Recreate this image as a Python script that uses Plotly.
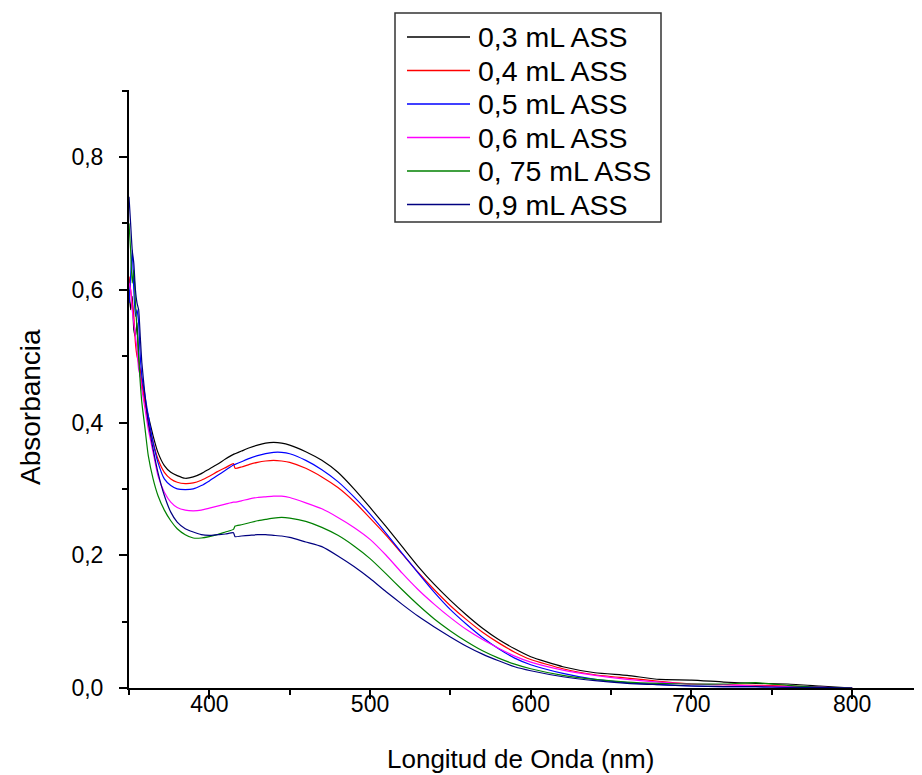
import plotly.graph_objects as go

wavelength = [350, 351, 352, 353, 354, 355, 356, 357, 358, 360, 362, 365, 368, 372, 376,
              380, 385, 390, 395, 400, 405, 410, 415, 416, 420, 425, 430, 435, 440, 445,
              450, 460, 470, 480, 490, 500, 510, 520, 530, 540, 550, 560, 570, 580, 590,
              600, 620, 640, 660, 680, 700, 720, 740, 760, 780, 800]

abs_03 = [0.60, 0.57, 0.59, 0.54, 0.53, 0.55, 0.50, 0.47, 0.46, 0.43, 0.41, 0.38, 0.355, 0.335, 0.325,
          0.320, 0.316, 0.318, 0.323, 0.330, 0.337, 0.345, 0.352, 0.353, 0.357, 0.362, 0.366, 0.369, 0.370, 0.369,
          0.366, 0.356, 0.343, 0.325, 0.300, 0.272, 0.243, 0.213, 0.183, 0.156, 0.132, 0.110, 0.090, 0.073, 0.059,
          0.047, 0.032, 0.023, 0.019, 0.013, 0.012, 0.009, 0.007, 0.006, 0.003, 0.0]

abs_04 = [0.62, 0.60, 0.58, 0.56, 0.52, 0.50, 0.49, 0.48, 0.46, 0.43, 0.40, 0.37, 0.345, 0.325, 0.315,
          0.310, 0.308, 0.309, 0.313, 0.319, 0.326, 0.332, 0.338, 0.331, 0.333, 0.337, 0.340, 0.342, 0.343, 0.342,
          0.340, 0.331, 0.318, 0.302, 0.281, 0.256, 0.230, 0.202, 0.174, 0.148, 0.124, 0.103, 0.084, 0.068, 0.054,
          0.043, 0.029, 0.020, 0.015, 0.010, 0.006, 0.005, 0.004, 0.003, 0.001, 0.0]

abs_05 = [0.58, 0.62, 0.66, 0.60, 0.56, 0.57, 0.55, 0.50, 0.47, 0.44, 0.41, 0.37, 0.34, 0.315, 0.305,
          0.300, 0.299, 0.300, 0.305, 0.312, 0.320, 0.328, 0.336, 0.337, 0.341, 0.346, 0.350, 0.353, 0.355, 0.355,
          0.353, 0.343, 0.329, 0.311, 0.288, 0.262, 0.233, 0.203, 0.173, 0.144, 0.118, 0.096, 0.076, 0.059, 0.045,
          0.035, 0.022, 0.013, 0.008, 0.005, 0.003, 0.002, 0.002, 0.001, 0.001, 0.0]

abs_06 = [0.61, 0.60, 0.57, 0.55, 0.53, 0.51, 0.48, 0.47, 0.45, 0.42, 0.39, 0.355, 0.32, 0.295, 0.28,
          0.272, 0.268, 0.267, 0.268, 0.271, 0.274, 0.277, 0.280, 0.280, 0.282, 0.285, 0.287, 0.288, 0.289, 0.289,
          0.287, 0.279, 0.270, 0.257, 0.242, 0.224, 0.200, 0.173, 0.148, 0.126, 0.106, 0.088, 0.073, 0.060, 0.048,
          0.039, 0.027, 0.019, 0.013, 0.009, 0.006, 0.005, 0.003, 0.002, 0.001, 0.0]

abs_075 = [0.70, 0.66, 0.61, 0.63, 0.58, 0.54, 0.50, 0.46, 0.43, 0.39, 0.35, 0.315, 0.29, 0.268, 0.252,
           0.240, 0.231, 0.226, 0.226, 0.228, 0.231, 0.235, 0.239, 0.244, 0.246, 0.249, 0.252, 0.254, 0.256, 0.257,
           0.256, 0.251, 0.242, 0.230, 0.214, 0.195, 0.172, 0.148, 0.125, 0.104, 0.086, 0.070, 0.056, 0.045, 0.036,
           0.029, 0.019, 0.013, 0.009, 0.007, 0.006, 0.006, 0.008, 0.004, 0.001, 0.0]

abs_09 = [0.74, 0.70, 0.66, 0.64, 0.60, 0.58, 0.57, 0.53, 0.49, 0.44, 0.40, 0.36, 0.325, 0.29, 0.265,
          0.250, 0.240, 0.235, 0.231, 0.230, 0.231, 0.232, 0.234, 0.228, 0.229, 0.230, 0.231, 0.231, 0.230, 0.229,
          0.227, 0.220, 0.213, 0.199, 0.183, 0.165, 0.145, 0.126, 0.108, 0.092, 0.077, 0.063, 0.051, 0.041, 0.032,
          0.026, 0.017, 0.011, 0.007, 0.005, 0.003, 0.002, 0.002, 0.001, 0.001, 0.0]

series_names = ["0,3 mL ASS", "0,4 mL ASS", "0,5 mL ASS", "0,6 mL ASS", "0, 75 mL ASS", "0,9 mL ASS"]
series_values = [abs_03, abs_04, abs_05, abs_06, abs_075, abs_09]
series_colors = ["#000000", "#FF0000", "#0000FF", "#FF00FF", "#008000", "#000080"]

y_tickvals = [0.0, 0.2, 0.4, 0.6, 0.8]
x_tickvals = [400, 500, 600, 700, 800]

FONT = "Liberation Sans, Arial, sans-serif"

# figure geometry (pixels in figure space; page adds an 8px body margin)
W, H = 914, 767
ML, MR, MT, MB = 121, 1, 82, 87
PW, PH = W - ML - MR, H - MT - MB


def px_x(fx):
    return (fx - ML) / PW


def px_y(fy):
    return (H - MB - fy) / PH


fig = go.Figure()
for name, vals, col in zip(series_names, series_values, series_colors):
    fig.add_trace(go.Scatter(x=wavelength, y=vals, mode="lines", name=name,
                             showlegend=False,
                             line=dict(color=col, width=1.2, shape="spline", smoothing=0.5)))

shapes = []
annotations = []

# manual legend box
box_l, box_r, box_t, box_b = 387, 653, 5, 214
shapes.append(dict(type="rect", xref="paper", yref="paper",
                   x0=px_x(box_l), x1=px_x(box_r), y0=px_y(box_b), y1=px_y(box_t),
                   line=dict(color="#333333", width=1.5), fillcolor="white", layer="above"))
row0, row_step = 29, 33.5
for i, (name, col) in enumerate(zip(series_names, series_colors)):
    ry = row0 + i * row_step
    shapes.append(dict(type="line", xref="paper", yref="paper",
                       x0=px_x(399), x1=px_x(462), y0=px_y(ry), y1=px_y(ry),
                       line=dict(color=col, width=1.5), layer="above"))
    annotations.append(dict(text=name, xref="paper", yref="paper",
                            x=px_x(468), y=px_y(ry), xanchor="left", yanchor="middle",
                            showarrow=False, font=dict(size=28.5, family=FONT, color="black")))

# axis titles
annotations.append(dict(text="Longitud de Onda (nm)", xref="paper", yref="paper",
                        x=px_x(512), y=px_y(751), xanchor="center", yanchor="middle",
                        showarrow=False, font=dict(size=26, family=FONT, color="black")))
annotations.append(dict(text="Absorbancia", xref="paper", yref="paper",
                        x=px_x(22), y=px_y(399), xanchor="center", yanchor="middle",
                        textangle=-90, showarrow=False,
                        font=dict(size=28, family=FONT, color="black")))

fig.update_layout(
    width=W, height=H,
    margin=dict(l=ML, r=MR, t=MT, b=MB, autoexpand=False),
    paper_bgcolor="white", plot_bgcolor="white",
    separators=",.",
    font=dict(family=FONT, color="black"),
    showlegend=False,
    shapes=shapes,
    annotations=annotations,
    xaxis=dict(range=[350, 350 + PW / 1.607], showline=True, linecolor="black", linewidth=2,
               showgrid=False, zeroline=False, ticks="outside", ticklen=9, tickwidth=2,
               tickcolor="black", tickvals=x_tickvals, tickfont=dict(size=23),
               automargin=False, ticklabelstandoff=-15,
               minor=dict(ticks="outside", dtick=50, tick0=350, ticklen=5, tickwidth=2,
                          tickcolor="black", showgrid=False)),
    yaxis=dict(range=[0, 0.901], showline=True, linecolor="black", linewidth=2,
               showgrid=False, zeroline=False, ticks="outside", ticklen=8, tickwidth=2,
               tickcolor="black", tickvals=y_tickvals, tickformat=".1f", tickfont=dict(size=23),
               automargin=False, ticklabelstandoff=11,
               minor=dict(ticks="outside", dtick=0.1, tick0=0, ticklen=5, tickwidth=2,
                          tickcolor="black", showgrid=False)),
)

fig.write_html("out.html")
